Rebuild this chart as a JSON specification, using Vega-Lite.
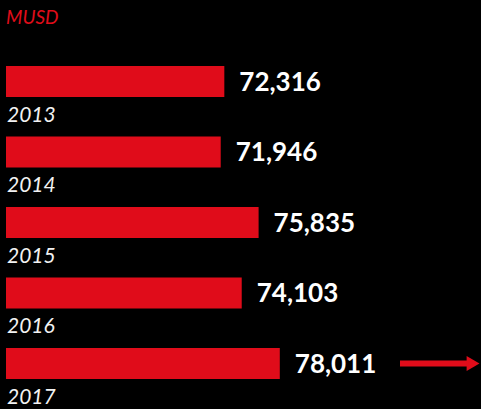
{
  "$schema": "https://vega.github.io/schema/vega-lite/v6.json",
  "width": 481,
  "height": 374,
  "autosize": "none",
  "padding": {"top": 35, "left": 0, "right": 0, "bottom": 0},
  "background": "#000000",
  "config": {"view": {"stroke": null}, "font": "Lato"},
  "title": {
    "text": "MUSD",
    "anchor": "start",
    "color": "#e00d1a",
    "font": "Lato",
    "fontSize": 19,
    "fontStyle": "italic",
    "fontWeight": "normal",
    "offset": 7,
    "dx": 6
  },
  "data": {
    "values": [
      {"year": "2013", "value": 72316},
      {"year": "2014", "value": 71946},
      {"year": "2015", "value": 75835},
      {"year": "2016", "value": 74103},
      {"year": "2017", "value": 78011}
    ]
  },
  "encoding": {
    "y": {
      "field": "year",
      "type": "nominal",
      "scale": {"type": "point", "range": [46.5, 328.5], "padding": 0},
      "axis": null
    }
  },
  "layer": [
    {
      "mark": {"type": "bar", "height": 31, "color": "#e00c1a"},
      "encoding": {
        "x": {
          "field": "value",
          "type": "quantitative",
          "scale": {"domain": [49287, 98666], "zero": false, "nice": false},
          "axis": null
        },
        "x2": {"datum": 49903}
      }
    },
    {
      "mark": {"type": "text", "align": "left", "baseline": "middle", "dx": 15, "dy": 1, "color": "#ffffff", "fontSize": 26, "fontWeight": "bold", "font": "Lato"},
      "encoding": {
        "x": {"field": "value", "type": "quantitative"},
        "text": {"field": "value", "type": "quantitative", "format": ",d"}
      }
    },
    {
      "mark": {"type": "text", "align": "left", "baseline": "middle", "dx": 1, "dy": 34, "color": "#f2f2f2", "fontSize": 21, "fontStyle": "italic", "font": "Lato"},
      "encoding": {
        "x": {"datum": 49903},
        "text": {"field": "year", "type": "nominal"}
      }
    },
    {
      "data": {"values": [{"year": "2017"}]},
      "mark": {"type": "rule", "color": "#e00c1a", "strokeWidth": 6, "dy": 2},
      "encoding": {
        "x": {"datum": 90351},
        "x2": {"datum": 97300}
      }
    },
    {
      "data": {"values": [{"year": "2017"}]},
      "mark": {"type": "point", "shape": "triangle-right", "filled": true, "color": "#e00c1a", "size": 220, "opacity": 1, "dy": 2},
      "encoding": {
        "x": {"datum": 97850}
      }
    }
  ]
}
